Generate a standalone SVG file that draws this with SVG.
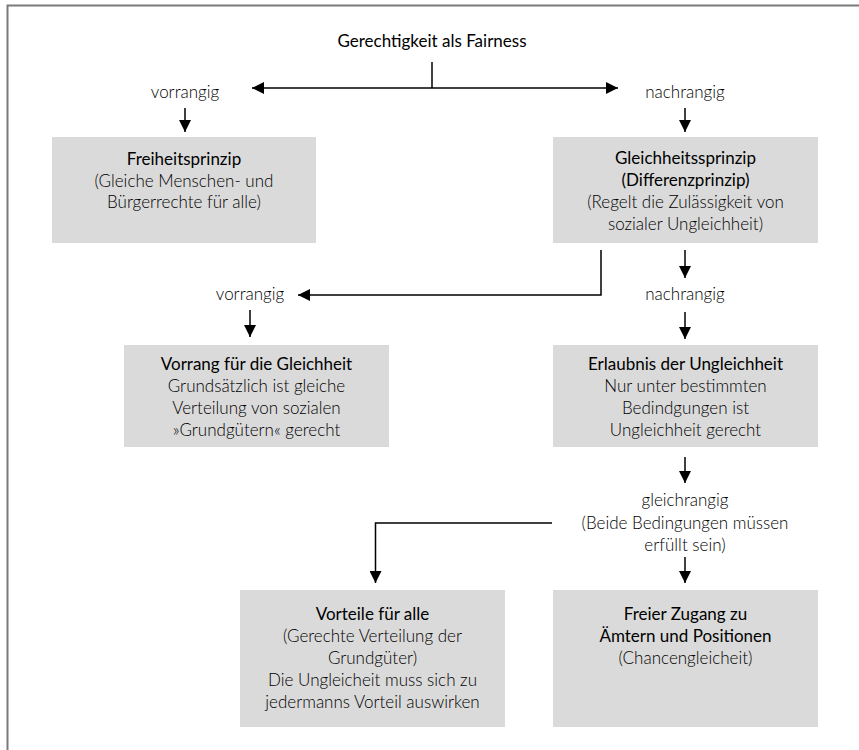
<svg xmlns="http://www.w3.org/2000/svg" width="859" height="750" viewBox="0 0 859 750">
<defs>
<marker id="ah" markerUnits="userSpaceOnUse" markerWidth="12" markerHeight="12" refX="12" refY="6" orient="auto">
<path d="M0,0 L12,6 L0,12 z" fill="#000"/>
</marker>
<style>
.box{fill:#dadada;}
text{font-family:Lato,"Liberation Sans",sans-serif;font-size:17px;text-anchor:middle;}
.h{font-weight:400;fill:#000;}
.b{font-weight:300;fill:#000;}
.c{fill:none;stroke:#000;stroke-width:1.5;}
.frame{fill:none;stroke:#7a7a7a;stroke-width:2;}
</style>
</defs>
<rect width="859" height="750" fill="#fff"/>
<path class="frame" d="M7.5,750 V5.5 H859"/>

<g id="title"><text class="h" x="432" y="47">Gerechtigkeit als Fairness</text></g>

<g id="labels">
<text class="b" x="185" y="98">vorrangig</text>
<text class="b" x="685" y="98">nachrangig</text>
<text class="b" x="250" y="300">vorrangig</text>
<text class="b" x="685" y="300">nachrangig</text>
<text class="b" x="685" y="506">gleichrangig</text>
<text class="b" x="685" y="529">(Beide Bedingungen müssen</text>
<text class="b" x="685" y="551">erfüllt sein)</text>
</g>

<g id="n1">
<rect class="box" x="52" y="137" width="264" height="106"/>
<text class="h" x="184" y="165">Freiheitsprinzip</text>
<text class="b" x="184" y="186.5">(Gleiche Menschen- und</text>
<text class="b" x="184" y="208">Bürgerrechte für alle)</text>
</g>

<g id="n2">
<rect class="box" x="553" y="137" width="265" height="106"/>
<text class="h" x="685.5" y="164">Gleichheitssprinzip</text>
<text class="h" x="685.5" y="186">(Differenzprinzip)</text>
<text class="b" x="685.5" y="208">(Regelt die Zulässigkeit von</text>
<text class="b" x="685.5" y="230">sozialer Ungleichheit)</text>
</g>

<g id="n3">
<rect class="box" x="124" y="345" width="265" height="102"/>
<text class="h" x="256.5" y="370">Vorrang für die Gleichheit</text>
<text class="b" x="256.5" y="392">Grundsätzlich ist gleiche</text>
<text class="b" x="256.5" y="414">Verteilung von sozialen</text>
<text class="b" x="256.5" y="436">»Grundgütern« gerecht</text>
</g>

<g id="n4">
<rect class="box" x="553" y="345" width="265" height="102"/>
<text class="h" x="685.5" y="370">Erlaubnis der Ungleichheit</text>
<text class="b" x="685.5" y="392">Nur unter bestimmten</text>
<text class="b" x="685.5" y="414">Bedindgungen ist</text>
<text class="b" x="685.5" y="436">Ungleichheit gerecht</text>
</g>

<g id="n5">
<rect class="box" x="240" y="590" width="265" height="137"/>
<text class="h" x="372.5" y="620">Vorteile für alle</text>
<text class="b" x="372.5" y="642">(Gerechte Verteilung der</text>
<text class="b" x="372.5" y="664">Grundgüter)</text>
<text class="b" x="372.5" y="686">Die Ungleicheit muss sich zu</text>
<text class="b" x="372.5" y="708">jedermanns Vorteil auswirken</text>
</g>

<g id="n6">
<rect class="box" x="553" y="590" width="265" height="137"/>
<text class="h" x="685.5" y="620">Freier Zugang zu</text>
<text class="h" x="685.5" y="642">Ämtern und Positionen</text>
<text class="b" x="685.5" y="664">(Chancengleicheit)</text>
</g>

<g id="connectors">
<path class="c" d="M432,62 V88"/>
<path class="c" d="M432,88 H252" marker-end="url(#ah)"/>
<path class="c" d="M432,88 H618" marker-end="url(#ah)"/>
<path class="c" d="M185,108 V132" marker-end="url(#ah)"/>
<path class="c" d="M685,108 V132" marker-end="url(#ah)"/>
<path class="c" d="M601,250 V295 H298" marker-end="url(#ah)"/>
<path class="c" d="M250,310 V337" marker-end="url(#ah)"/>
<path class="c" d="M685,250 V278" marker-end="url(#ah)"/>
<path class="c" d="M685,312 V339" marker-end="url(#ah)"/>
<path class="c" d="M685,457 V483" marker-end="url(#ah)"/>
<path class="c" d="M552,523 H375.5 V583" marker-end="url(#ah)"/>
<path class="c" d="M685,557 V583" marker-end="url(#ah)"/>
</g>
</svg>
